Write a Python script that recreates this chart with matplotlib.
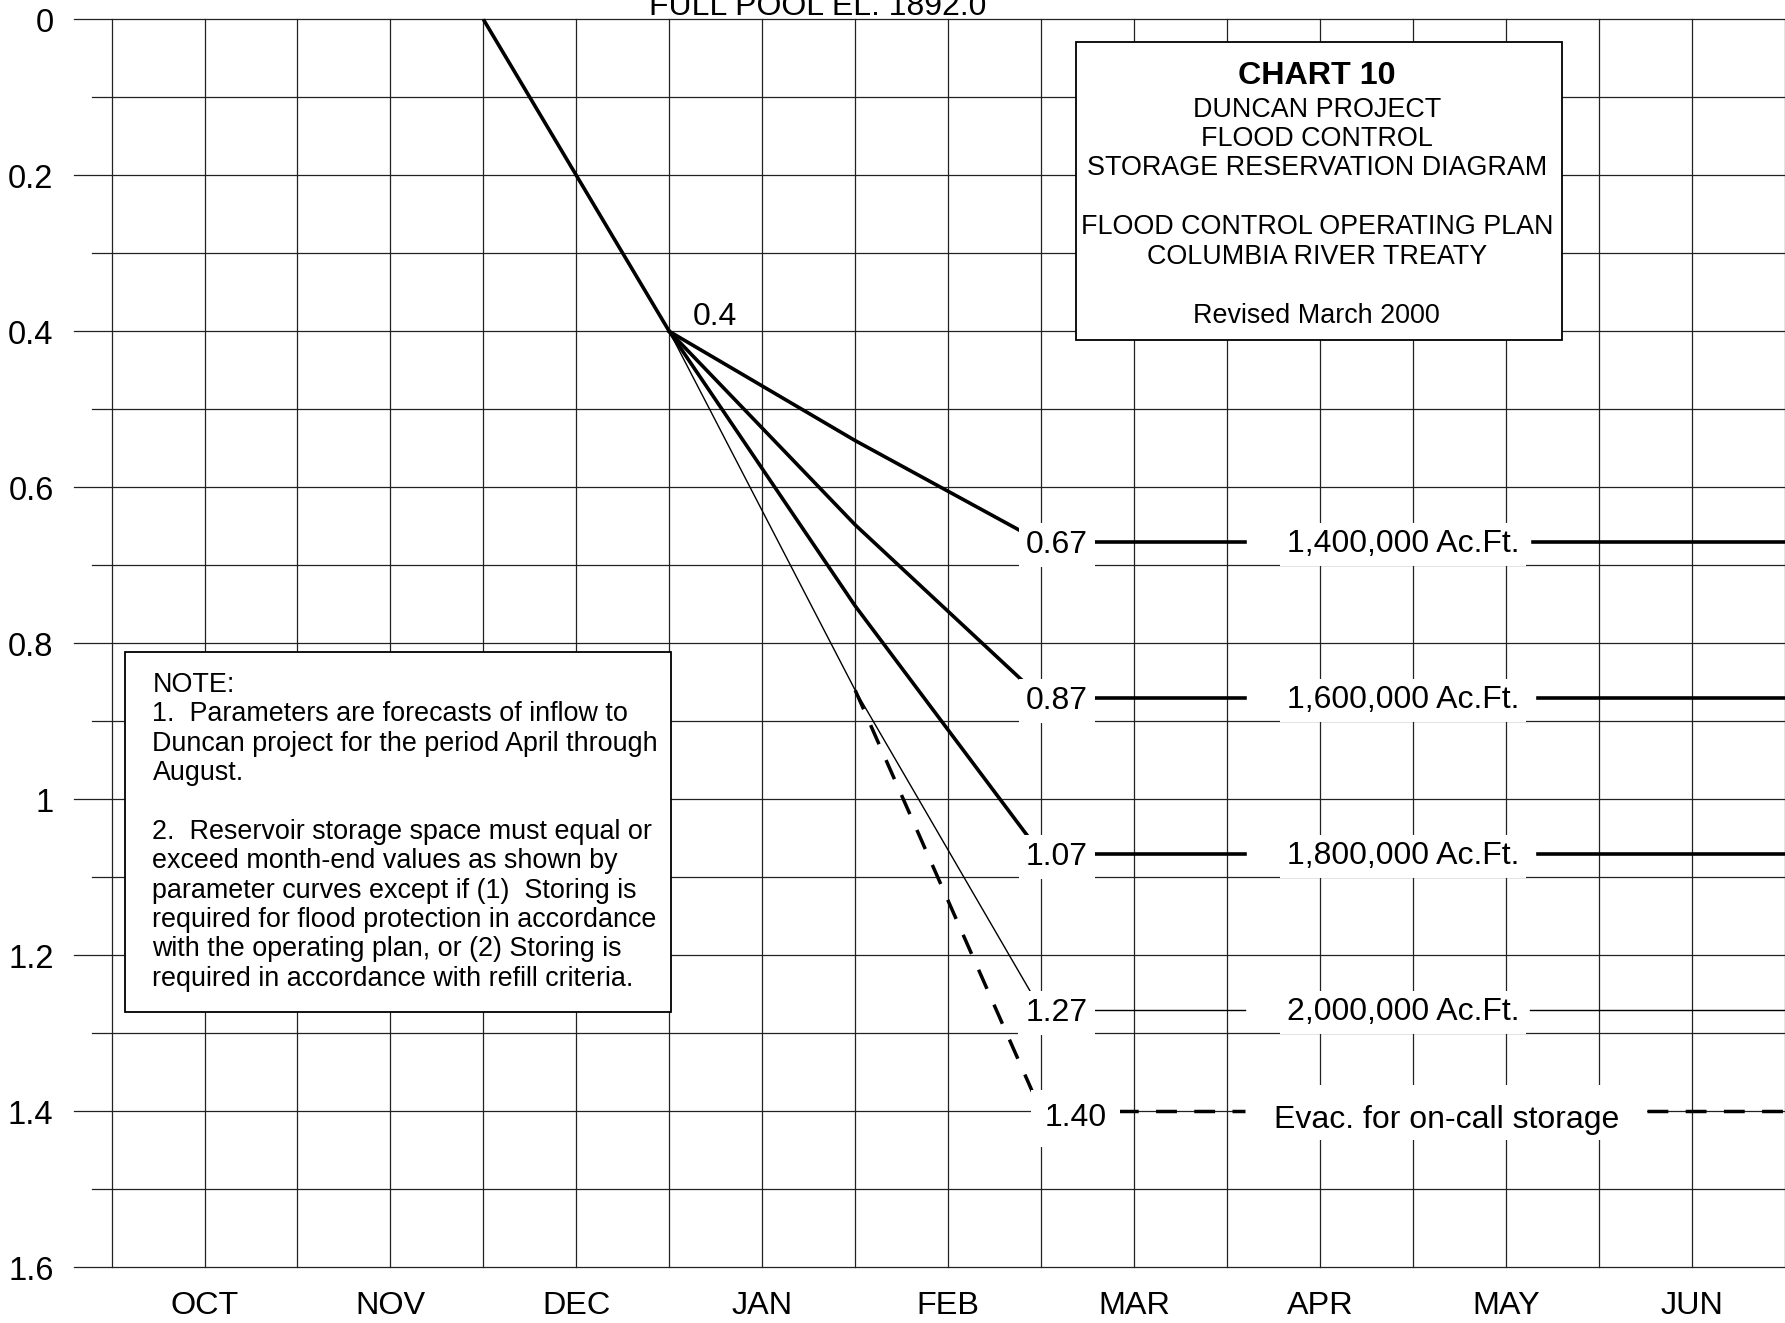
import matplotlib
matplotlib.use("Agg")
import matplotlib.pyplot as plt
from matplotlib.patches import Rectangle

plt.rcParams['font.family'] = ['Liberation Sans', 'DejaVu Sans']

# months since Oct 1 on x, storage space (million acre-feet) on y
months = ['OCT', 'NOV', 'DEC', 'JAN', 'FEB', 'MAR', 'APR', 'MAY', 'JUN']
y_ticks = [0, 0.2, 0.4, 0.6, 0.8, 1, 1.2, 1.4, 1.6]
y_tick_labels = ['0', '0.2', '0.4', '0.6', '0.8', '1', '1.2', '1.4', '1.6']

# common drawdown Dec 1 -> Jan 1
common_x = [2, 3]
common_y = [0.0, 0.4]

# parameter curves: Jan 1, Feb 1, Mar 1 (held to Jun 30)
curve_x = [3, 4, 5]
feb_vals = [0.54, 0.648, 0.752, 0.86]
mar_vals = [0.67, 0.87, 1.07, 1.27]
mar_labels = ['0.67', '0.87', '1.07', '1.27']
forecasts = ['1,400,000 Ac.Ft.', '1,600,000 Ac.Ft.', '1,800,000 Ac.Ft.', '2,000,000 Ac.Ft.']
curve_lw = [2.6, 2.6, 2.6, 1.0]

# evacuation for on-call storage, branches off the thin curve at Feb 1
evac_x = [4, 5]
evac_y = [0.86, 1.40]
evac_label = '1.40'
evac_text = 'Evac. for on-call storage'

title_lines = ['DUNCAN PROJECT', 'FLOOD CONTROL', 'STORAGE RESERVATION DIAGRAM', '',
               'FLOOD CONTROL OPERATING PLAN', 'COLUMBIA RIVER TREATY', '', 'Revised March 2000']
note_lines = ['NOTE:',
              '1.  Parameters are forecasts of inflow to',
              'Duncan project for the period April through',
              'August.',
              '',
              '2.  Reservoir storage space must equal or',
              'exceed month-end values as shown by',
              'parameter curves except if (1)  Storing is',
              'required for flood protection in accordance',
              'with the operating plan, or (2) Storing is',
              'required in accordance with refill criteria.']

fig = plt.figure(figsize=(17.85, 13.23), dpi=100)
ax = fig.add_axes([0, 0, 1, 1])
ax.set_xlim(-0.6003, 9.0016)
ax.set_ylim(1.6713, -0.0249)
ax.axis('off')

grid_kw = dict(color='#222222', lw=0.9, zorder=1)
# vertical grid, every half month
for i in range(19):
    ax.plot([i * 0.5, i * 0.5], [0, 1.6], **grid_kw)
# horizontal grid, every 0.1, majors stick out further left
for j in range(17):
    y = j * 0.1
    x0 = -0.204 if j % 2 == 0 else -0.103
    ax.plot([x0, 9.0], [y, y], **grid_kw)

for y, lab in zip(y_ticks, y_tick_labels):
    ax.text(-0.3125, y + 0.0162, lab, ha='right', va='baseline', fontsize=23.5)
for i, m in enumerate(months):
    ax.text(i + 0.5, 1.6603, m, ha='center', va='baseline', fontsize=23.3)

ax.text(3.8, -0.006, 'FULL POOL EL. 1892.0', ha='center', va='baseline', fontsize=23, clip_on=False)

# curves
ax.plot(common_x, common_y, color='black', lw=2.6, zorder=2, solid_capstyle='butt')
ax.text(3.246, 0.3924, '0.4', ha='center', va='baseline', fontsize=23, zorder=4)

gap_left = 6.097
gap_right = [7.646, 7.673, 7.673, 7.63]
for k in range(4):
    lvl = mar_vals[k]
    ax.plot(curve_x, [0.4, feb_vals[k], lvl], color='black', lw=curve_lw[k], zorder=2)
    ax.plot([5, gap_left], [lvl, lvl], color='black', lw=curve_lw[k], zorder=2)
    ax.plot([gap_right[k], 9.0], [lvl, lvl], color='black', lw=curve_lw[k], zorder=2)
    ax.text(5.083, lvl + 0.014, mar_labels[k], ha='center', va='baseline', fontsize=23, zorder=5,
            bbox=dict(boxstyle='square,pad=0.22', fc='white', ec='none'))
    ax.text(6.947, lvl + 0.013, forecasts[k], ha='center', va='baseline', fontsize=23, zorder=5,
            bbox=dict(boxstyle='square,pad=0.2', fc='white', ec='none'))

evac_gap_right = 8.259
dash_kw = dict(color='black', lw=2.5, zorder=2, dashes=(6, 5))
ax.plot(evac_x, evac_y, **dash_kw)
ax.plot([5, gap_left], [evac_y[1], evac_y[1]], **dash_kw)
ax.plot([evac_gap_right, 9.0], [evac_y[1], evac_y[1]], **dash_kw)
# white patch hides the 1.4 grid line behind the evac label
ax.add_patch(Rectangle((gap_left, 1.3662), evac_gap_right - gap_left, 0.0705,
                       fc='white', ec='none', zorder=1.5))
ax.text(5.185, 1.4191, evac_label, ha='center', va='baseline', fontsize=23, zorder=5,
        bbox=dict(boxstyle='square,pad=0.42', fc='white', ec='none'))
ax.text(7.181, 1.4213, evac_text, ha='center', va='baseline', fontsize=23, zorder=5)

# title box
ax.add_patch(Rectangle((5.186, 0.0286), 2.616, 0.3824, fc='white', ec='black', lw=1.3, zorder=6))
ax.text(6.483, 0.0828, 'CHART 10', ha='center', va='baseline', fontsize=23.2,
        fontweight='bold', zorder=7)
for i, line in enumerate(title_lines):
    if line:
        ax.text(6.483, 0.1247 + i * 0.0377, line, ha='center', va='baseline', fontsize=19.4, zorder=7)

# note box
ax.add_patch(Rectangle((0.072, 0.811), 2.937, 0.4616, fc='white', ec='black', lw=1.3, zorder=6))
for i, line in enumerate(note_lines):
    if line:
        ax.text(0.22, 0.862 + i * 0.0377, line, ha='left', va='baseline', fontsize=19.4, zorder=7)

fig.savefig('out.png', dpi=100)
